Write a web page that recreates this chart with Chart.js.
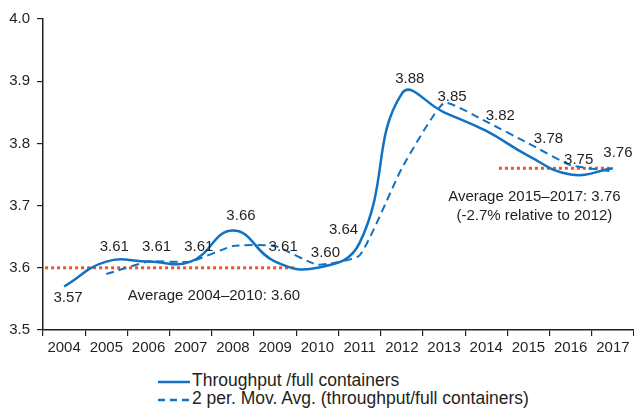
<!DOCTYPE html>
<html>
<head>
<meta charset="utf-8">
<script src="https://cdn.jsdelivr.net/npm/chart.js@4"></script>
<style>
  body { margin: 0; background: #fff; font-family: "Liberation Sans", Arial, sans-serif; color: #231f20; }
  #wrap { position: relative; width: 634px; height: 414px; }
  #box { position: absolute; left: 0; top: 0; width: 634px; height: 362px; }
  #legend { position: absolute; left: 158px; top: 371px; font-size: 17.5px; line-height: 18px; }
  #legend .row { display: flex; align-items: center; white-space: nowrap; }
  #legend svg { margin-right: 2px; }
</style>
</head>
<body>
<div id="wrap">
  <div id="box"><canvas id="chart"></canvas></div>
  <div id="legend">
    <div class="row"><svg width="32" height="18"><line x1="0" y1="11" x2="32" y2="11" stroke="#1171c2" stroke-width="2.5"/></svg>Throughput /full containers</div>
    <div class="row"><svg width="32" height="18"><line x1="0" y1="11" x2="32" y2="11" stroke="#1171c2" stroke-width="2.5" stroke-dasharray="7,5"/></svg>2 per. Mov. Avg. (throughput/full containers)</div>
  </div>
</div>
<script>
const years = ['2004', '2005', '2006', '2007', '2008', '2009', '2010', '2011', '2012', '2013', '2014', '2015', '2016', '2017'];
const throughput = [3.57, 3.61, 3.61, 3.61, 3.66, 3.61, 3.60, 3.64, 3.88, 3.85, 3.82, 3.78, 3.75, 3.76];
const movingAvg = [null, 3.59, 3.61, 3.61, 3.635, 3.635, 3.605, 3.62, 3.76, 3.865, 3.835, 3.80, 3.765, 3.755];
const yTicks = [3.5, 3.6, 3.7, 3.8, 3.9, 4.0];

// average reference lines (x in category index units)
const avgEarly = [{ x: -0.45, y: 3.60 }, { x: 5.45, y: 3.60 }];
const avgLate = [{ x: 10.3, y: 3.76 }, { x: 13.0, y: 3.76 }];
const avgEarlyText = ['Average 2004\u20132010: 3.60'];
const avgLateText = ['Average 2015\u20132017: 3.76', '(-2.7% relative to 2012)'];

const BLUE = '#1171c2';
const RED = '#e8562a';
const INK = '#231f20';
const FONT = { family: '"Liberation Sans", Arial, sans-serif', size: 15 };

// label nudges for the throughput values
function labelOffset(i) {
  if (i === 0) return [4, 11];
  if (i === 7) return [-16, -13];
  if (i === 10) return [14, -15];
  if (i === 11) return [20, -17];
  if (i === 13) return [5, -15];
  return [8, -15];
}

const textPlugin = {
  id: 'texts',
  afterDatasetsDraw(chart) {
    const ctx = chart.ctx;
    const xa = chart.scales.xa, y = chart.scales.y;
    ctx.save();
    ctx.font = '15px "Liberation Sans", Arial, sans-serif';
    ctx.fillStyle = INK;
    ctx.textAlign = 'center';
    ctx.textBaseline = 'middle';
    chart.getDatasetMeta(0).data.forEach((pt, i) => {
      const [dx, dy] = labelOffset(i);
      ctx.fillText(throughput[i].toFixed(2), pt.x + dx, pt.y + dy);
    });
    ctx.fillText(avgEarlyText[0], xa.getPixelForValue(3.55), y.getPixelForValue(3.555));
    ctx.fillText(avgLateText[0], xa.getPixelForValue(11.14), y.getPixelForValue(3.714));
    ctx.fillText(avgLateText[1], xa.getPixelForValue(11.14), y.getPixelForValue(3.684));
    ctx.restore();
  }
};

new Chart(document.getElementById('chart'), {
  type: 'line',
  data: {
    labels: years,
    datasets: [
      {
        label: 'Throughput /full containers',
        data: throughput,
        borderColor: BLUE,
        borderWidth: 2.5,
        pointRadius: 0,
        tension: 0.45,
        fill: false,
        order: 1
      },
      {
        label: '2 per. Mov. Avg. (throughput/full containers)',
        data: movingAvg,
        borderColor: BLUE,
        borderWidth: 2,
        borderDash: [8, 5],
        pointRadius: 0,
        tension: 0.15,
        fill: false,
        order: 2
      },
      {
        label: 'avg early',
        data: avgEarly,
        xAxisID: 'xa',
        borderColor: RED,
        borderWidth: 3,
        borderDash: [3, 3],
        pointRadius: 0,
        fill: false,
        order: 3
      },
      {
        label: 'avg late',
        data: avgLate,
        xAxisID: 'xa',
        borderColor: RED,
        borderWidth: 3,
        borderDash: [3, 3],
        pointRadius: 0,
        fill: false,
        order: 3
      }
    ]
  },
  options: {
    responsive: true,
    maintainAspectRatio: false,
    animation: false,
    layout: { padding: { top: 19, right: 0, left: 0, bottom: 0 } },
    plugins: {
      legend: { display: false },
      tooltip: { enabled: false }
    },
    scales: {
      x: {
        type: 'category',
        offset: true,
        grid: { offset: true, drawOnChartArea: false, drawTicks: true, tickLength: 6, color: INK, lineWidth: 1.2 },
        border: { display: true, color: INK, width: 1.5 },
        ticks: { color: INK, font: FONT, padding: 3, maxRotation: 0, autoSkip: false },
        afterFit(scale) { scale.height = 32; }
      },
      xa: {
        type: 'linear',
        display: false,
        min: -0.5,
        max: 13.5
      },
      y: {
        min: 3.5,
        max: 4.0,
        afterBuildTicks(scale) { scale.ticks = yTicks.map(v => ({ value: v })); },
        grid: { drawOnChartArea: false, drawTicks: true, tickLength: 6, color: INK, lineWidth: 1.2 },
        border: { display: true, color: INK, width: 1.5 },
        ticks: { color: INK, font: FONT, padding: 7, callback: v => v.toFixed(1) },
        afterFit(scale) { scale.width = 43; }
      }
    }
  },
  plugins: [textPlugin]
});
</script>
</body>
</html>
